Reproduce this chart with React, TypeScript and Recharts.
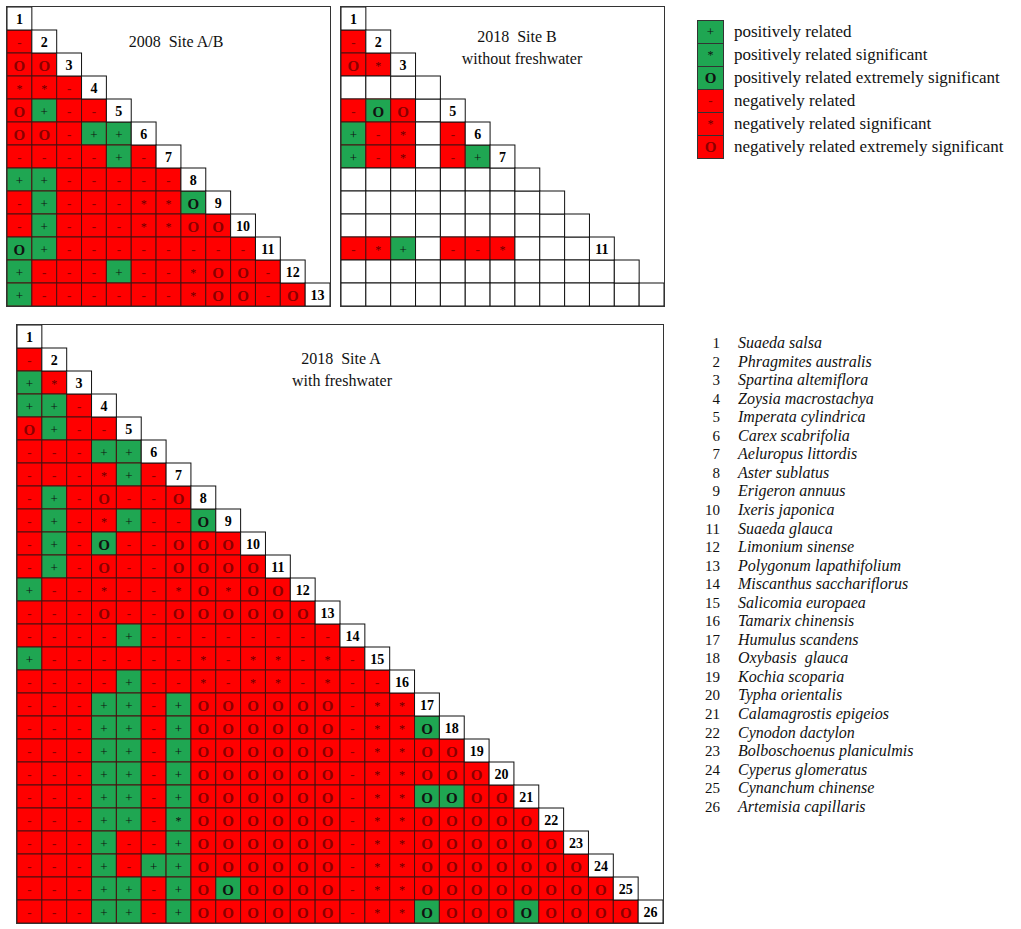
import { useMemo } from 'react'
import { ScatterChart, Scatter, XAxis, YAxis } from 'recharts'

// cell codes: '+' green plus, 'Q' green star, 'P' green O,
// '-' red minus, '*' red star, 'O' red O, '.' empty
const ROWS_2008 = [
  '',
  '-',
  'OO',
  '**-',
  'O+--',
  'OO-++',
  '----+-',
  '++-----',
  '-+---**P',
  '-+---**OO',
  'P+--------',
  '+---+--*OO-',
  '+------*OO-O',
]
const LABELS_2008 = ['1', '2', '3', '4', '5', '6', '7', '8', '9', '10', '11', '12', '13']

const ROWS_2018B = [
  '',
  '-',
  'O*',
  '...',
  '-PO.',
  '+-*.-',
  '+-*.-+',
  '.......',
  '........',
  '.........',
  '-*+.--*...',
  '...........',
  '............',
]
const LABELS_2018B = ['1', '2', '3', '', '5', '6', '7', '', '', '', '11', '', '']

const ROWS_2018A = [
  '',
  '-',
  '+*',
  '++-',
  'O+--',
  '---++',
  '---*+-',
  '-+-O--O',
  '-+-*+--P',
  '-+-P--OOO',
  '-+-O--OOOO',
  '+--*--*O*OO',
  '---O--OOOOOO',
  '----+--------',
  '+------*-**-*-',
  '----+--*-**-*--',
  '---++-+OOOOOO-**',
  '---++-+OOOOOO-**P',
  '---++-+OOOOOO-**OO',
  '---++-+OOOOOO-**OOO',
  '---++-+OOOOOO-**PPOO',
  '---++-QOOOOOO-**OOOOO',
  '---+--+OOOOOO-**OOOOOO',
  '---+-++OOOOOO-**OOOOOOO',
  '---++-+OPOOOO-**OOOOOOOO',
  '---++-+OOOOOO-**POOOPOOOO',
]
const LABELS_2018A = Array.from({ length: 26 }, (_, i) => String(i + 1))

const LEGEND_CODES = ['+', 'Q', 'P', '-', '*', 'O']
const LEGEND_LABELS = [
  'positively related',
  'positively related significant',
  'positively related extremely significant',
  'negatively related',
  'negatively related significant',
  'negatively related extremely significant',
]

const SPECIES = [
  'Suaeda salsa',
  'Phragmites australis',
  'Spartina altemiflora',
  'Zoysia macrostachya',
  'Imperata cylindrica',
  'Carex scabrifolia',
  'Aeluropus littordis',
  'Aster sublatus',
  'Erigeron annuus',
  'Ixeris japonica',
  'Suaeda glauca',
  'Limonium sinense',
  'Polygonum lapathifolium',
  'Miscanthus sacchariflorus',
  'Salicomia europaea',
  'Tamarix chinensis',
  'Humulus scandens',
  'Oxybasis  glauca',
  'Kochia scoparia',
  'Typha orientalis',
  'Calamagrostis epigeios',
  'Cynodon dactylon',
  'Bolboschoenus planiculmis',
  'Cyperus glomeratus',
  'Cynanchum chinense',
  'Artemisia capillaris',
]

const SERIF = '"Liberation Serif", "Times New Roman", "DejaVu Serif", serif'
const GREEN = '#1fa652'
const RED = '#ff0000'

const STYLE: Record<string, { fill: string; text: string; color: string; size: number; weight: number }> = {
  '+': { fill: GREEN, text: '+', color: '#111', size: 13, weight: 400 },
  Q: { fill: GREEN, text: '*', color: '#111', size: 12, weight: 400 },
  P: { fill: GREEN, text: 'O', color: '#111', size: 15, weight: 700 },
  '-': { fill: RED, text: '-', color: '#8a0000', size: 13, weight: 700 },
  '*': { fill: RED, text: '*', color: '#600', size: 12, weight: 400 },
  O: { fill: RED, text: 'O', color: '#8a0000', size: 15, weight: 700 },
  '.': { fill: '#fff', text: '', color: '#000', size: 12, weight: 400 },
}

const CellShape = (props: any) => {
  const { cx, cy, payload, cw, ch } = props
  const x = cx - cw / 2
  const y = cy - ch / 2
  if (payload.code === 'D') {
    return (
      <g>
        <rect x={x} y={y} width={cw} height={ch} fill="#fff" stroke="#111" strokeWidth={1} />
        <text x={cx} y={cy + 1} textAnchor="middle" dominantBaseline="central" fontFamily={SERIF} fontSize={14} fontWeight={700} fill="#000">
          {payload.label}
        </text>
      </g>
    )
  }
  const s = STYLE[payload.code]
  return (
    <g>
      <rect x={x} y={y} width={cw} height={ch} fill={s.fill} stroke={payload.code === '.' ? '#111' : '#4a1010'} strokeWidth={1} />
      {s.text ? (
        <text x={cx} y={cy + 1} textAnchor="middle" dominantBaseline="central" fontFamily={SERIF} fontSize={s.size} fontWeight={s.weight} fill={s.color}>
          {s.text}
        </text>
      ) : null}
    </g>
  )
}

function Matrix({ rows, labels, left, top, width, height }: any) {
  const n = labels.length
  const cw = width / n
  const ch = height / n
  const data = useMemo(() => {
    const out: any[] = []
    rows.forEach((row: string, r: number) => {
      row.split('').forEach((code, c) => out.push({ x: c + 0.5, y: r + 0.5, code }))
    })
    labels.forEach((label: string, r: number) => out.push({ x: r + 0.5, y: r + 0.5, code: 'D', label }))
    return out
  }, [rows, labels])

  return (
    <div style={{ position: 'absolute', left: left - 1, top: top - 1, width, height, border: '1px solid #333' }}>
      <ScatterChart width={width} height={height} margin={{ top: 0, right: 0, bottom: 0, left: 0 }}>
        <XAxis type="number" dataKey="x" domain={[0, n]} hide />
        <YAxis type="number" dataKey="y" domain={[0, n]} reversed hide />
        <Scatter data={data} isAnimationActive={false} shape={(p: any) => <CellShape {...p} cw={cw} ch={ch} />} />
      </ScatterChart>
    </div>
  )
}

const Title = ({ text, cx, cy }: any) => (
  <div
    style={{
      position: 'absolute',
      left: cx - 150,
      top: cy - 10,
      width: 300,
      height: 20,
      lineHeight: '20px',
      textAlign: 'center',
      fontFamily: SERIF,
      fontSize: 16,
      whiteSpace: 'pre',
      color: '#111',
    }}
  >
    {text}
  </div>
)

export default function App() {
  return (
    <div style={{ position: 'absolute', left: 0, top: 0, width: 1021, height: 929, background: '#fff', fontFamily: SERIF }}>
      <Matrix rows={ROWS_2008} labels={LABELS_2008} left={7} top={7} width={323} height={299} />
      <Title text="2008  Site A/B" cx={176} cy={42} />

      <Matrix rows={ROWS_2018B} labels={LABELS_2018B} left={341} top={7} width={323} height={299} />
      <Title text="2018  Site B" cx={517} cy={37} />
      <Title text="without freshwater" cx={522} cy={59} />

      <Matrix rows={ROWS_2018A} labels={LABELS_2018A} left={17} top={325} width={646} height={598} />
      <Title text="2018  Site A" cx={341} cy={359} />
      <Title text="with freshwater" cx={342} cy={381} />

      {LEGEND_CODES.map((code, i) => {
        const s = STYLE[code]
        return (
          <div key={code + i}>
            <div
              style={{
                position: 'absolute',
                left: 697,
                top: 20 + i * 23,
                width: 25,
                height: 22,
                background: s.fill,
                border: '1px solid #333',
                textAlign: 'center',
                lineHeight: '22px',
                fontSize: s.size,
                fontWeight: s.weight,
                color: s.color,
              }}
            >
              {s.text}
            </div>
            <div
              style={{
                position: 'absolute',
                left: 734,
                top: 20 + i * 23,
                height: 23,
                lineHeight: '23px',
                fontSize: 17,
                whiteSpace: 'pre',
                color: '#111',
              }}
            >
              {LEGEND_LABELS[i]}
            </div>
          </div>
        )
      })}

      {SPECIES.map((name, i) => (
        <div key={name}>
          <div
            style={{
              position: 'absolute',
              left: 694,
              top: 334 + i * 18.55,
              width: 26,
              height: 18,
              lineHeight: '18px',
              textAlign: 'right',
              fontSize: 15,
              color: '#111',
            }}
          >
            {i + 1}
          </div>
          <div
            style={{
              position: 'absolute',
              left: 738,
              top: 334 + i * 18.55,
              height: 18,
              lineHeight: '18px',
              fontSize: 16,
              fontStyle: 'italic',
              whiteSpace: 'pre',
              color: '#111',
            }}
          >
            {name}
          </div>
        </div>
      ))}
    </div>
  )
}
